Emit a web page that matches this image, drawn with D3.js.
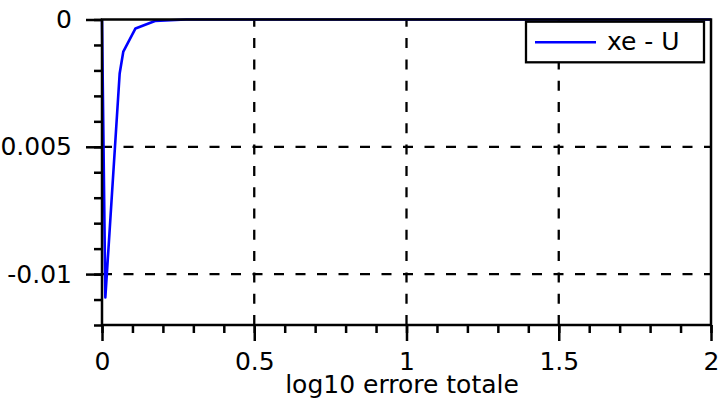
<!DOCTYPE html>
<html>
<head>
<meta charset="utf-8">
<script src="https://cdn.jsdelivr.net/npm/d3@7"></script>
<style>
  html, body { margin: 0; padding: 0; background: #fff; }
  svg { display: block; font-family: "DejaVu Sans", sans-serif; }
</style>
</head>
<body>
<svg id="chart" width="718" height="401"></svg>
<script>
// ---- data ----
const xValues = [0, 0.011, 0.058, 0.070, 0.110, 0.174, 0.276, 0.437, 0.693, 1.10, 1.74, 2.0];
const yValues = [0, -0.01092, -0.00212, -0.00126, -0.00035, -0.00006, 0, 0, 0, 0, 0, 0];
const seriesName = "xe - U";
const xMajorTicks = [0, 0.5, 1, 1.5, 2];
const xTickLabels = ["0", "0.5", "1", "1.5", "2"];
const yMajorTicks = [0, -0.005, -0.01];
const yTickLabels = ["0", "-0.005", "-0.01"];
const xTitle = "log10 errore totale";

// ---- layout ----
const mLeft = 102, mRight = 711, mTop = 19.5, mBottom = 325;

const svg = d3.select("#chart");
const x = d3.scaleLinear().domain([0, 2]).range([mLeft, mRight]);
const y = d3.scaleLinear().domain([-0.012, 0]).range([mBottom, mTop]);

const fontSize = 25;
const lw = 2.5;

// grid (dashed) - horizontal
const gridH = yMajorTicks.filter(v => v !== 0);
svg.append("g").selectAll("line").data(gridH).join("line")
  .attr("x1", mLeft).attr("x2", mRight)
  .attr("y1", d => y(d)).attr("y2", d => y(d))
  .attr("stroke", "#000").attr("stroke-width", 2.3)
  .attr("stroke-dasharray", "10,11.5");
// vertical (drawn from bottom up)
const gridV = xMajorTicks.filter(v => v !== 0 && v !== 2);
svg.append("g").selectAll("line").data(gridV).join("line")
  .attr("x1", d => x(d)).attr("x2", d => x(d))
  .attr("y1", mBottom).attr("y2", mTop)
  .attr("stroke", "#000").attr("stroke-width", 2.3)
  .attr("stroke-dasharray", "10,11.3");

// curve
const pts = xValues.map((v, i) => [v, yValues[i]]);
svg.append("path").datum(pts)
  .attr("fill", "none").attr("stroke", "#0000ff").attr("stroke-width", 2.6)
  .attr("stroke-linejoin", "round")
  .attr("d", d3.line().x(d => x(d[0])).y(d => y(d[1])));

// axes: minor ticks
const xMinor = d3.range(0, 2.0001, 0.1).map(v => +v.toFixed(2));
svg.append("g").attr("transform", `translate(0,${mBottom})`)
  .call(d3.axisBottom(x).tickValues(xMinor).tickSize(8).tickSizeOuter(0).tickFormat(""))
  .call(g => g.select(".domain").remove())
  .call(g => g.selectAll("line").attr("stroke-width", lw));
const yMinor = d3.range(-0.012, 0.00001, 0.001).map(v => +v.toFixed(4));
svg.append("g").attr("transform", `translate(${mLeft},0)`)
  .call(d3.axisLeft(y).tickValues(yMinor).tickSize(8).tickSizeOuter(0).tickFormat(""))
  .call(g => g.select(".domain").remove())
  .call(g => g.selectAll("line").attr("stroke-width", lw));

// major ticks + labels
svg.append("g").attr("transform", `translate(0,${mBottom})`)
  .call(d3.axisBottom(x).tickValues(xMajorTicks).tickSize(16).tickPadding(11).tickSizeOuter(0)
    .tickFormat((d, i) => xTickLabels[i]))
  .call(g => g.select(".domain").remove())
  .call(g => g.selectAll("line").attr("stroke-width", lw))
  .call(g => g.selectAll("text").attr("font-size", fontSize).attr("font-family", "DejaVu Sans").attr("fill", "#000"));
svg.append("g").attr("transform", `translate(${mLeft},0)`)
  .call(d3.axisLeft(y).tickValues(yMajorTicks).tickSize(16).tickPadding(14).tickSizeOuter(0)
    .tickFormat((d, i) => yTickLabels[i]))
  .call(g => g.select(".domain").remove())
  .call(g => g.selectAll("line").attr("stroke-width", lw))
  .call(g => g.selectAll("text").attr("font-size", fontSize).attr("font-family", "DejaVu Sans").attr("fill", "#000"));

// frame
svg.append("rect")
  .attr("x", mLeft).attr("y", mTop).attr("width", mRight - mLeft).attr("height", mBottom - mTop)
  .attr("fill", "none").attr("stroke", "#000").attr("stroke-width", lw);

// x title
svg.append("text")
  .attr("x", 402).attr("y", 393)
  .attr("text-anchor", "middle").attr("font-size", fontSize)
  .text(xTitle);

// legend
const lg = svg.append("g");
lg.append("rect").attr("x", 526).attr("y", 21.7).attr("width", 178).attr("height", 40.6)
  .attr("fill", "#fff").attr("stroke", "#000").attr("stroke-width", 2.3);
lg.append("line").attr("x1", 535).attr("x2", 596).attr("y1", 42.3).attr("y2", 42.3)
  .attr("stroke", "#0000ff").attr("stroke-width", 2.6);
lg.append("text").attr("x", 607).attr("y", 50).attr("font-size", fontSize).text(seriesName);
</script>
</body>
</html>
